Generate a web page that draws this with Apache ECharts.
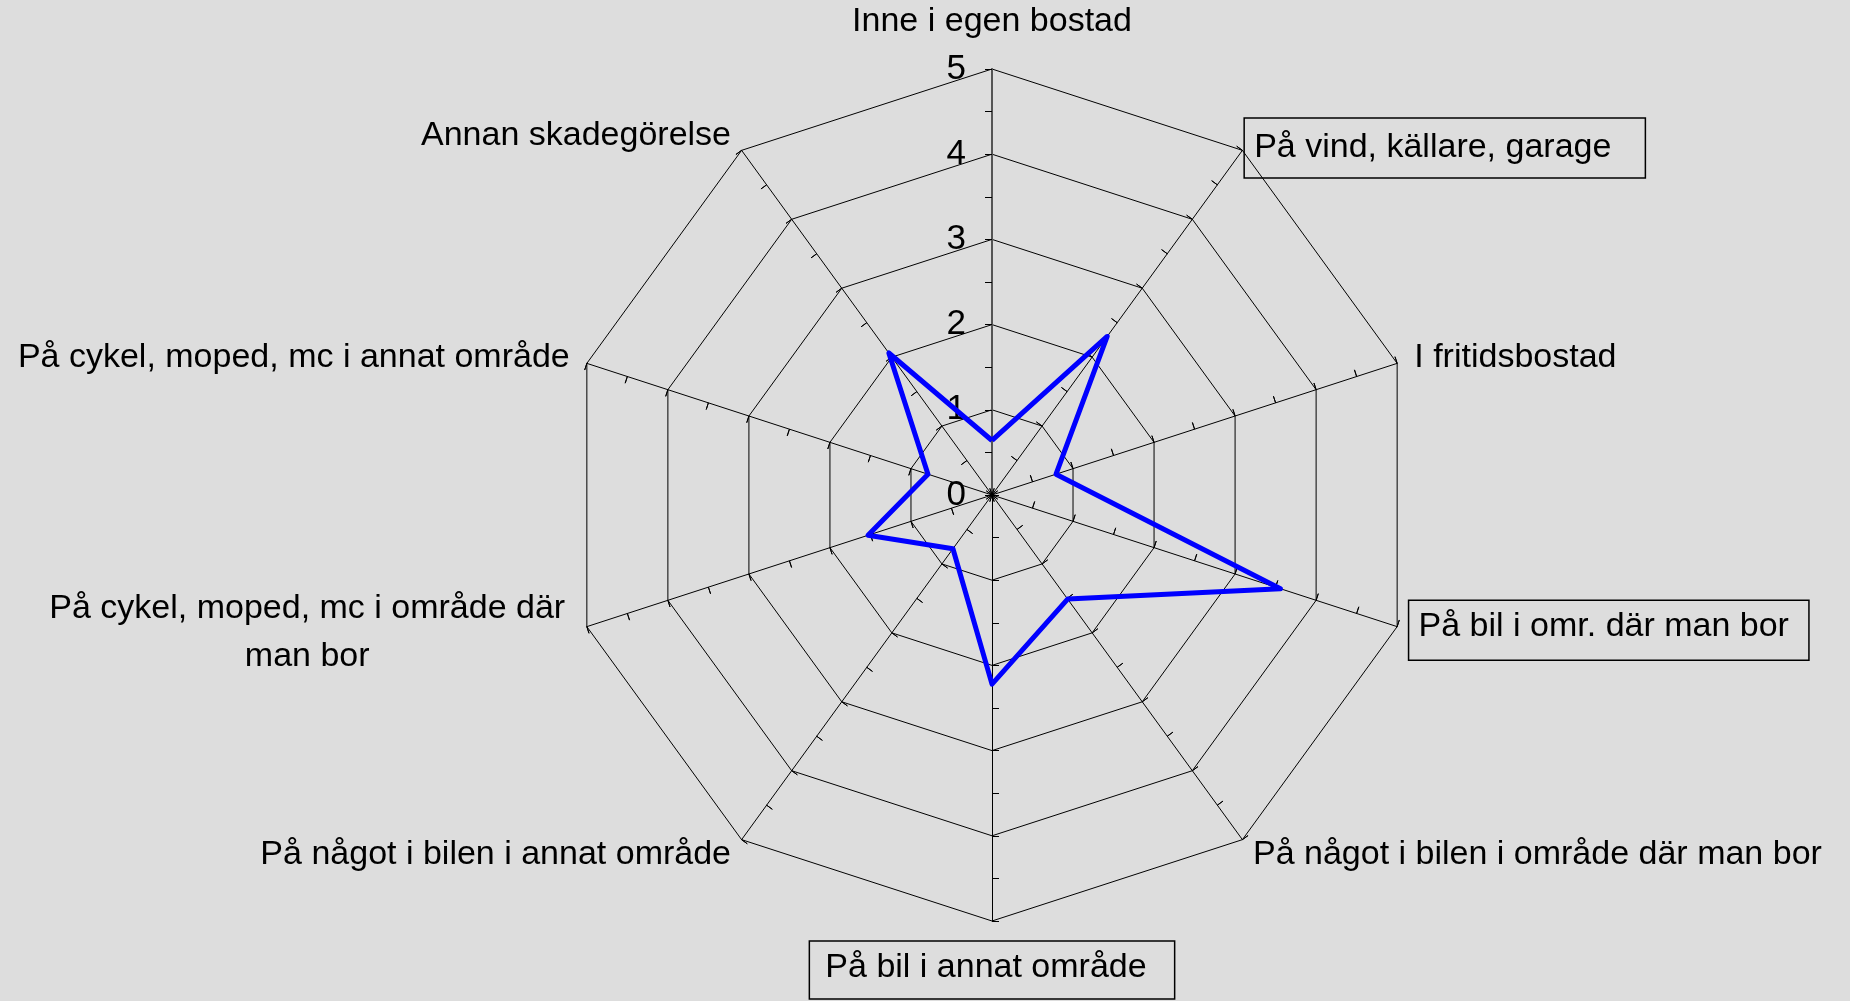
<!DOCTYPE html>
<html>
<head>
<meta charset="utf-8">
<script src="https://cdn.jsdelivr.net/npm/echarts@6/dist/echarts.min.js"></script>
<style>
  html, body { margin: 0; padding: 0; background: #dddddd; }
  #chart { width: 1850px; height: 1001px; }
</style>
</head>
<body>
<div id="chart"></div>
<script>
// categories, clockwise from the top
var categories = [
    "Inne i egen bostad",
    "På vind, källare, garage",
    "I fritidsbostad",
    "På bil i omr. där man bor",
    "På något i bilen i område där man bor",
    "På bil i annat område",
    "På något i bilen i annat område",
    "På cykel, moped, mc i område där\nman bor",
    "På cykel, moped, mc i annat område",
    "Annan skadegörelse"
];
var values = [0.64, 2.3, 0.79, 3.56, 1.51, 2.22, 0.78, 1.53, 0.79, 2.06];
// labels drawn inside a frame, with their rich style key
var boxed = {
    "På vind, källare, garage": "box1",
    "På bil i omr. där man bor": "box2",
    "På bil i annat område": "box3"
};
var axisMin = 0;
var axisMax = 5;

var center = [992, 495];
var radius = 426;
var font = "Liberation Sans, Arial, sans-serif";

// radar runs counter-clockwise, so keep the first axis on top and reverse the rest
var order = [0];
for (var k = categories.length - 1; k > 0; k--) order.push(k);

var mainIndicators = order.map(function (i) {
    var name = categories[i];
    var ind = { name: name, min: axisMin, max: axisMax };
    if (i === 0) {
        ind.axisLabel = { show: true };
        ind.axisLine = { lineStyle: { color: "#555555", width: 2 } };
        ind.nameGap = 30;
    }
    if (name === "På vind, källare, garage") ind.nameGap = 3;
    if (name === "På bil i omr. där man bor") ind.nameGap = 12;
    if (name === "På bil i annat område") ind.nameGap = 20;
    return ind;
});

var tickIndicators = order.map(function (i) {
    return { name: categories[i], min: axisMin, max: axisMax };
});

var seriesValues = order.map(function (i) { return values[i]; });

function tickRadar(inside) {
    return {
        center: center,
        radius: radius,
        startAngle: 90,
        shape: "polygon",
        splitNumber: 10,
        indicator: tickIndicators,
        axisName: { show: false },
        axisLine: { show: false },
        splitLine: { show: false },
        splitArea: { show: false },
        axisLabel: { show: false },
        axisTick: { show: true, inside: inside, length: 7, lineStyle: { color: "#000", width: 1 } }
    };
}

function boxStyle(padding) {
    return {
        fontFamily: font,
        fontSize: 34,
        color: "#000",
        borderColor: "#000",
        borderWidth: 1.5,
        padding: padding
    };
}

var option = {
    backgroundColor: "#dddddd",
    animation: false,
    radar: [
        {
            center: center,
            radius: radius,
            startAngle: 90,
            shape: "polygon",
            splitNumber: 5,
            indicator: mainIndicators,
            nameGap: 18,
            axisName: {
                color: "#000",
                fontFamily: font,
                fontSize: 34,
                formatter: function (value) {
                    if (boxed[value]) return "{" + boxed[value] + "|" + value + "}";
                    if (value.indexOf("\n") >= 0) {
                        return value.split("\n").map(function (s) { return "{mid|" + s + "}"; }).join("\n");
                    }
                    return value;
                },
                rich: {
                    box1: boxStyle([13, 34, 13, 10]),
                    box2: boxStyle([9, 20, 17, 10]),
                    box3: boxStyle([10, 28, 14, 16]),
                    mid: {
                        fontFamily: font,
                        fontSize: 34,
                        color: "#000",
                        width: 525,
                        align: "center",
                        lineHeight: 48
                    }
                }
            },
            axisLine: { lineStyle: { color: "#000", width: 1 } },
            splitLine: { lineStyle: { color: "#000", width: 1 } },
            splitArea: { show: false },
            axisTick: { show: false },
            axisLabel: {
                show: false,
                color: "#000",
                fontFamily: font,
                fontSize: 35,
                margin: 26
            }
        },
        tickRadar(false),
        tickRadar(true)
    ],
    series: [
        {
            type: "radar",
            radarIndex: 0,
            symbol: "none",
            lineStyle: { color: "#0000ff", width: 5 },
            data: [{ value: seriesValues, name: "Skadegörelse" }]
        }
    ]
};

var chart = echarts.init(document.getElementById("chart"));
chart.setOption(option);
</script>
</body>
</html>
